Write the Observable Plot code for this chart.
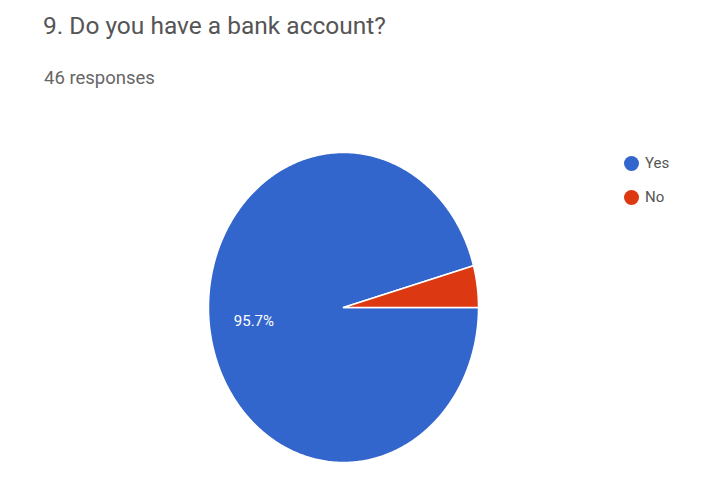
<!DOCTYPE html>
<html>
<head>
<meta charset="utf-8">
<script src="https://cdn.jsdelivr.net/npm/d3@7"></script>
<script src="https://cdn.jsdelivr.net/npm/@observablehq/plot@0.6"></script>
<style>
  html, body { margin: 0; padding: 0; background: #fff; }
  #wrap { position: relative; width: 707px; height: 495px; font-family: Roboto, "Liberation Sans", Arial, sans-serif; }
  #head { height: 110px; position: relative; }
  #title { position: absolute; left: 43px; top: 11px; font-size: 24.5px; color: #555; white-space: nowrap; }
  #sub { position: absolute; left: 44px; top: 67px; font-size: 18.5px; color: #666; white-space: nowrap; }
  #legend { position: absolute; left: 624px; top: 146px; font-size: 15px; color: #555; }
  .li { display: flex; align-items: center; height: 34px; }
  .sw { width: 15px; height: 15px; border-radius: 50%; margin-right: 6px; }
</style>
</head>
<body>
<div id="wrap">
  <div id="head">
    <div id="title"></div>
    <div id="sub"></div>
  </div>
  <div id="chart"></div>
  <div id="legend"></div>
</div>
<script>
const titleText = "9. Do you have a bank account?";
const subtitleText = "46 responses";
const categories = ["Yes", "No"];
const counts = [44, 2];
const colors = ["#3366cc", "#dc3912"];

document.getElementById("title").textContent = titleText;
document.getElementById("sub").textContent = subtitleText;

const total = d3.sum(counts);
const pie = d3.pie().sort(null).value(d => d.count)
  .startAngle(Math.PI / 2).endAngle(Math.PI / 2 + 2 * Math.PI);
const arcs = pie(categories.map((c, i) => ({key: c, count: counts[i]})));

// polygon points for each slice (unit circle, compass angles)
const pts = [];
for (const a of arcs) {
  pts.push({key: a.data.key, x: 0, y: 0});
  const n = Math.max(2, Math.ceil((a.endAngle - a.startAngle) / 0.01));
  for (let i = 0; i <= n; i++) {
    const t = a.startAngle + (a.endAngle - a.startAngle) * i / n;
    pts.push({key: a.data.key, x: Math.sin(t), y: Math.cos(t)});
  }
}
const labels = arcs.filter(a => a.data.count / total > 0.05).map(a => {
  const m = (a.startAngle + a.endAngle) / 2;
  return {x: 0.67 * Math.sin(m), y: 0.67 * Math.cos(m),
          text: (a.data.count / total * 100).toFixed(1) + "%"};
});

const chart = Plot.plot({
  width: 707,
  height: 385,
  margin: 0,
  x: {domain: [-1, 1], range: [208, 478], axis: null},
  y: {domain: [-1, 1], range: [352, 42], axis: null},
  color: {domain: categories, range: colors},
  style: {fontFamily: "Roboto, 'Liberation Sans', Arial, sans-serif", background: "white"},
  marks: [
    Plot.line(pts, {x: "x", y: "y", z: "key", fill: "key", stroke: "white", strokeWidth: 1.5, curve: "linear-closed"}),
    Plot.text(labels, {x: "x", y: "y", text: "text", fill: "white", fontSize: 15})
  ]
});
document.getElementById("chart").appendChild(chart);

const legend = document.getElementById("legend");
categories.forEach((c, i) => {
  const row = document.createElement("div");
  row.className = "li";
  row.innerHTML = `<span class="sw" style="background:${colors[i]}"></span><span>${c}</span>`;
  legend.appendChild(row);
});
</script>
</body>
</html>
